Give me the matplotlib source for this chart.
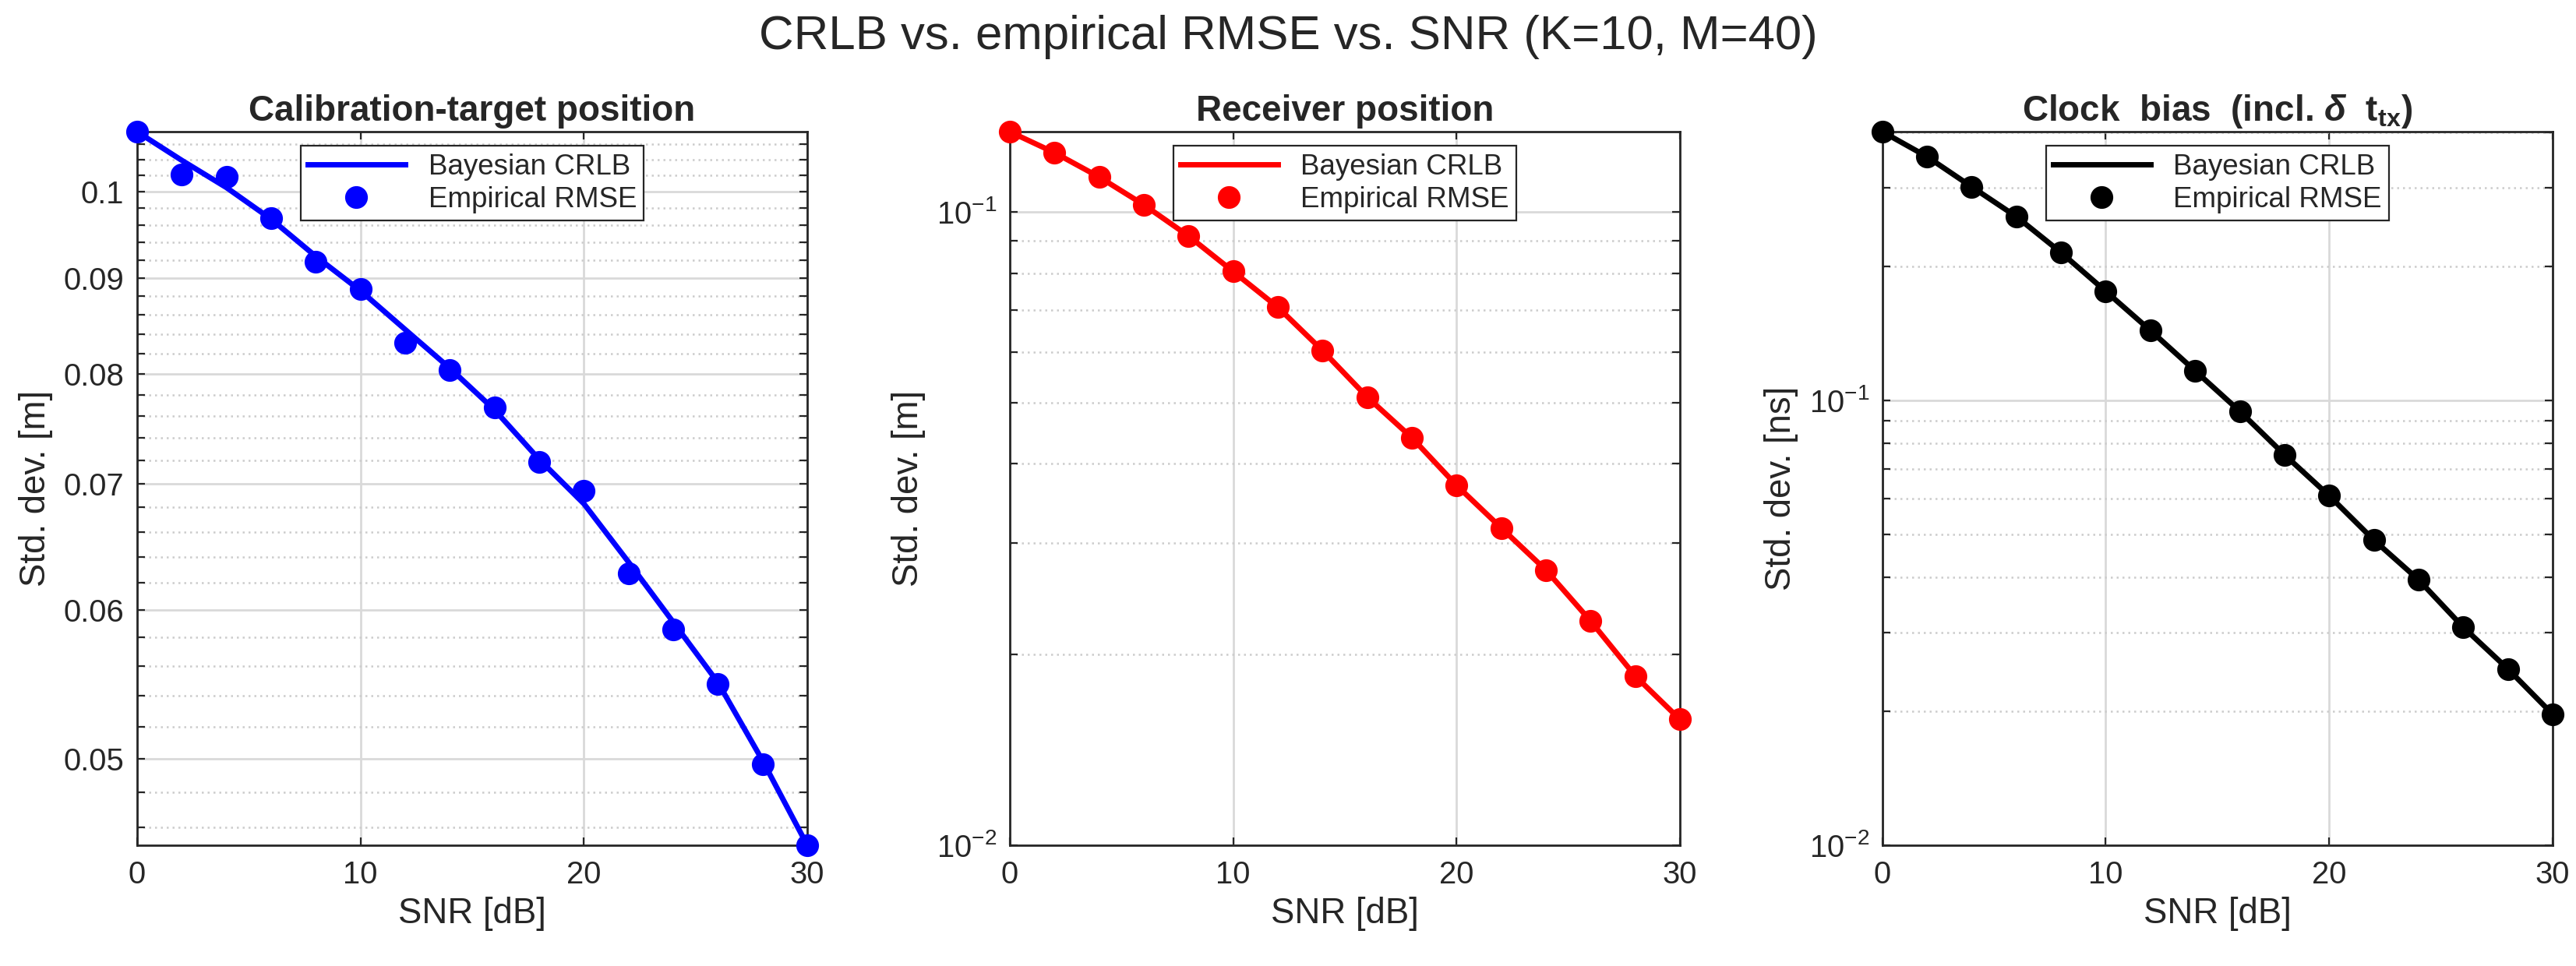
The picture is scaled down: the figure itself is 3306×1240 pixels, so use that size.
import matplotlib
matplotlib.use("Agg")
import matplotlib.pyplot as plt
import numpy as np
from matplotlib.ticker import FixedLocator, NullFormatter, LogLocator

plt.rcParams['font.family'] = ['Liberation Sans', 'DejaVu Sans']
plt.rcParams['mathtext.fontset'] = 'custom'
plt.rcParams['mathtext.rm'] = 'Liberation Sans'
plt.rcParams['mathtext.it'] = 'Liberation Sans:italic'
plt.rcParams['mathtext.bf'] = 'Liberation Sans:bold'
plt.rcParams['mathtext.bfit'] = 'Liberation Sans:bold:italic'

# SNR grid [dB]
snr = [0, 2, 4, 6, 8, 10, 12, 14, 16, 18, 20, 22, 24, 26, 28, 30]

# calibration-target position [m]
crlb_target = [0.1076, 0.1039, 0.1005, 0.0967, 0.0924, 0.0886, 0.0845, 0.0806,
               0.0766, 0.0721, 0.0683, 0.0636, 0.0591, 0.0549, 0.0499, 0.0450]
rmse_target = [0.1076, 0.1021, 0.1018, 0.0968, 0.0918, 0.0888, 0.0831, 0.0804,
               0.0768, 0.0719, 0.0694, 0.0627, 0.0586, 0.0548, 0.0497, 0.0450]

# receiver position [m]
crlb_rx = [0.1338, 0.1240, 0.1135, 0.1026, 0.0916, 0.0805, 0.0707, 0.0604,
           0.0510, 0.0440, 0.0370, 0.0317, 0.0272, 0.0226, 0.0185, 0.0158]
rmse_rx = [0.1338, 0.1240, 0.1135, 0.1026, 0.0916, 0.0805, 0.0707, 0.0604,
           0.0510, 0.0440, 0.0370, 0.0317, 0.0272, 0.0226, 0.0185, 0.0158]

# clock bias [ns]
crlb_clk = [0.401, 0.3524, 0.3015, 0.2584, 0.2146, 0.1756, 0.1434, 0.1164,
            0.0944, 0.0754, 0.0610, 0.0485, 0.0395, 0.0309, 0.0249, 0.0197]
rmse_clk = [0.401, 0.3524, 0.3015, 0.2584, 0.2146, 0.1756, 0.1434, 0.1164,
            0.0944, 0.0754, 0.0610, 0.0485, 0.0395, 0.0309, 0.0249, 0.0197]

text_col = (0.15, 0.15, 0.15)

fig, axes = plt.subplots(1, 3, figsize=(16.53, 6.2), dpi=200)
plt.subplots_adjust(left=0.0532, right=0.9909, bottom=0.125, top=0.8637, wspace=0.302)

panels = [
    (crlb_target, rmse_target, 'b', 'Calibration-target position', 'Std. dev. [m]'),
    (crlb_rx, rmse_rx, 'r', 'Receiver position', 'Std. dev. [m]'),
    (crlb_clk, rmse_clk, 'k', r'Clock  bias  (incl. $\mathbfit{\delta}$  t$_{\mathbf{tx}}$)', 'Std. dev. [ns]'),
]

for i, (ax, (crlb, rmse, col, title, ylab)) in enumerate(zip(axes, panels)):
    ax.semilogy(snr, crlb, '-', color=col, lw=2.5, label='Bayesian CRLB', zorder=3)
    ax.semilogy(snr, rmse, 'o', color=col, ms=9.5, label='Empirical RMSE', zorder=4,
                clip_on=False)
    ax.set_xlim(0, 30)
    ax.set_xticks([0, 10, 20, 30])
    if i == 0:
        ax.set_ylim(min(crlb), max(crlb))
        majors = [0.05, 0.06, 0.07, 0.08, 0.09, 0.1]
        ax.yaxis.set_major_locator(FixedLocator(majors))
        ax.set_yticklabels(['0.05', '0.06', '0.07', '0.08', '0.09', '0.1'])
        minors = [v for v in np.round(np.arange(0.046, 0.108, 0.002), 3)
                  if round(v, 2) != v]
        ax.yaxis.set_minor_locator(FixedLocator(minors))
        ax.yaxis.set_minor_formatter(NullFormatter())
    else:
        ax.set_ylim(0.01, max(crlb))
        ax.yaxis.set_major_locator(FixedLocator([0.01, 0.1]))
        ax.set_yticklabels([r'10$^{-2}$', r'10$^{-1}$'])
        ax.yaxis.set_minor_locator(LogLocator(base=10, subs=np.arange(2, 10)))
        ax.yaxis.set_minor_formatter(NullFormatter())

    ax.grid(True, which='major', color=(0.85, 0.85, 0.85), lw=1.0)
    ax.grid(True, which='minor', axis='y', color=(0.8, 0.8, 0.8), lw=0.9, ls=(0, (1, 2)))
    ax.set_axisbelow(True)
    ax.tick_params(which='both', direction='in', top=True, right=True,
                   length=3.5, width=0.8, colors=text_col, labelsize=14.4)
    ax.tick_params(axis='x', pad=7)
    ax.tick_params(axis='y', pad=6)
    for s in ax.spines.values():
        s.set_linewidth(1.0)
        s.set_color(text_col)

    ax.set_title(title, fontsize=16.5, fontweight='bold', color=text_col, pad=5)
    ax.set_xlabel('SNR [dB]', fontsize=16.4, color=text_col, labelpad=3)
    ax.set_ylabel(ylab, fontsize=16.4, color=text_col, labelpad=5)

    leg = ax.legend(loc='upper center', bbox_to_anchor=(0.5, 0.98), fontsize=13.25,
                    handlelength=3.4, numpoints=1, fancybox=False, framealpha=1,
                    edgecolor=text_col, borderpad=0.25, labelspacing=0.2,
                    handletextpad=0.8, borderaxespad=0)
    leg.get_frame().set_linewidth(0.8)
    for t in leg.get_texts():
        t.set_color(text_col)

fig.suptitle('CRLB vs. empirical RMSE vs. SNR (K=10, M=40)', fontsize=22.25,
             color=text_col, y=0.962, va='center')

fig.savefig('out.png', dpi=200)
